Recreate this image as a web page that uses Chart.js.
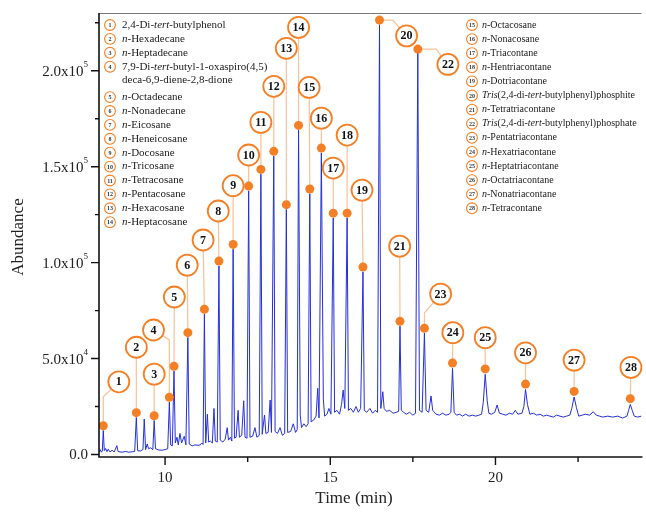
<!DOCTYPE html>
<html>
<head>
<meta charset="utf-8">
<script src="https://cdn.jsdelivr.net/npm/chart.js@4.4.1/dist/chart.umd.min.js"></script>
<style>
  html, body { margin: 0; padding: 0; background: #fff; }
  #wrap { width: 646px; height: 513px; }
</style>
</head>
<body>
<div id="wrap"><canvas id="chrom" width="646" height="513"></canvas></div>
<script>
// --- DATA ---
const traceTime = [
  8.00, 8.04, 8.07, 8.10, 8.13, 8.16, 8.20, 8.24, 8.28, 8.33, 8.40, 8.46, 8.54, 8.58, 8.70, 8.80, 8.90, 9.00, 9.08,
  9.13, 9.17, 9.25, 9.33, 9.37, 9.41, 9.46, 9.50, 9.56, 9.63, 9.67, 9.71, 9.80, 9.90, 10.00, 10.08,
  10.13, 10.17, 10.22, 10.27, 10.31, 10.36, 10.40, 10.45, 10.50, 10.58, 10.63, 10.69, 10.73, 10.82, 10.90,
  11.00, 11.06, 11.11, 11.15, 11.19, 11.23, 11.28, 11.32, 11.37, 11.43, 11.48, 11.52, 11.58, 11.63, 11.67,
  11.75, 11.82, 11.88, 11.92, 11.98, 12.02, 12.06, 12.10, 12.15, 12.21, 12.25, 12.32, 12.38, 12.42, 12.48,
  12.53, 12.57, 12.65, 12.72, 12.78, 12.85, 12.90, 12.94, 13.01, 13.05, 13.12, 13.18, 13.22, 13.29, 13.33,
  13.40, 13.48, 13.55, 13.62, 13.67, 13.71, 13.80, 13.88, 13.95, 14.00, 14.04, 14.09, 14.13, 14.20, 14.27,
  14.33, 14.38, 14.42, 14.50, 14.57, 14.62, 14.66, 14.73, 14.79, 14.83, 14.90, 14.96, 15.02, 15.09, 15.13,
  15.20, 15.28, 15.34, 15.39, 15.44, 15.51, 15.55, 15.62, 15.70, 15.78, 15.85, 15.92, 15.99, 16.03, 16.10,
  16.20, 16.28, 16.36, 16.43, 16.49, 16.53, 16.59, 16.63, 16.70, 16.80, 16.90, 17.00, 17.07, 17.11, 17.15,
  17.22, 17.30, 17.40, 17.50, 17.58, 17.65, 17.70, 17.78, 17.85, 17.90, 17.98, 18.05, 18.10, 18.20, 18.30,
  18.40, 18.50, 18.60, 18.65, 18.70, 18.75, 18.82, 18.92, 19.00, 19.10, 19.20, 19.30, 19.40, 19.50, 19.58,
  19.63, 19.69, 19.75, 19.80, 19.88, 19.98, 20.05, 20.12, 20.22, 20.32, 20.42, 20.52, 20.60, 20.68, 20.80,
  20.86, 20.91, 20.97, 21.04, 21.15, 21.25, 21.35, 21.45, 21.55, 21.65, 21.75, 21.85, 21.95, 22.05, 22.15,
  22.25, 22.31, 22.38, 22.45, 22.52, 22.62, 22.72, 22.85, 22.96, 23.05, 23.15, 23.25, 23.40, 23.55, 23.70,
  23.85, 23.98, 24.03, 24.08, 24.14, 24.20, 24.30, 24.42
];
const traceAbund = [
  1300, 2500, 1200, 1800, 12500, 2000, 3200, 1500, 2800, 1400, 2200, 1300, 4600, 1500, 1200, 1600, 1200, 1400, 1600,
  19300, 2000, 1800, 2600, 18500, 2500, 5500, 3000, 3500, 2500, 17700, 3000, 2400, 2200, 2600, 3000,
  27300, 5000, 4500, 43500, 6000, 9000, 5000, 11000, 6000, 9500, 5000, 61000, 5500, 4500, 5000,
  4800, 5000, 6000, 5200, 73200, 6000, 21000, 6500, 7000, 6000, 24000, 7000, 6500, 98300, 7500,
  6500, 8000, 14000, 7500, 9000, 7000, 107000, 8500, 9000, 23000, 9000, 10000, 28000, 9000, 8500,
  137400, 9000, 9500, 14000, 9000, 10000, 146100, 10500, 20600, 11000, 11500, 28400, 11500, 155500, 12000,
  11000, 14000, 10000, 11000, 127700, 11500, 12000, 16000, 11500, 13000, 169000, 20600, 14000, 16000, 14500,
  16000, 135900, 17000, 18000, 20000, 34500, 19000, 157200, 29000, 20000, 21000, 24000, 21000, 123300, 22000,
  23000, 21000, 26000, 33600, 24000, 123300, 23000, 24000, 22000, 25000, 22000, 24000, 95200, 23000, 22000,
  24000, 21500, 23000, 22000, 224000, 24000, 32700, 24000, 22500, 23000, 21500, 22000, 22500, 66900, 23000,
  22000, 21000, 22000, 20500, 21500, 209300, 23000, 22000, 63300, 23000, 22000, 30500, 23000, 21000, 20500,
  21500, 20500, 21000, 22000, 44900, 22000, 20500, 21000, 20000, 21000, 20000, 20500, 20000, 20500, 21000,
  27000, 41800, 28000, 21500, 21000, 22000, 25800, 21500, 21000, 20500, 21500, 21000, 23000, 21000, 21500,
  25000, 33900, 26000, 21000, 21500, 20500, 21000, 20000, 20500, 20000, 19500, 20500, 20000, 19500, 20000,
  20500, 24000, 30000, 24500, 20000, 20500, 21000, 20500, 22300, 20500, 20000, 19500, 20000, 19500, 20000,
  19000, 20000, 23000, 26100, 23000, 20000, 19500, 20000
];

// numbered peaks: marker dot, label circle, optional elbow of the leader line
const peakTime  = [8.13, 9.13, 9.67, 10.13, 10.27, 10.69, 11.19, 11.63, 12.06, 12.53, 12.90, 13.29, 13.67, 14.04,
                   14.38, 14.73, 15.09, 15.51, 15.99, 16.49, 17.11, 17.65, 17.85, 18.70, 19.69, 20.91, 22.38, 24.08];
const peakAbund = [15000, 21800, 20200, 29800, 46000, 63500, 75700, 100800, 109500, 139900, 148600, 158000, 130200, 171500,
                   138400, 159700, 125800, 125800, 97700, 226400, 69400, 211300, 65800, 47700, 44600, 36700, 32900, 29100];
const labelTime  = [8.60, 9.13, 9.67, 9.65, 10.28, 10.67, 11.15, 11.61, 12.06, 12.53, 12.90, 13.29, 13.67, 14.04,
                    14.36, 14.73, 15.09, 15.51, 15.96, 17.31, 17.10, 18.56, 18.34, 18.71, 19.69, 20.91, 22.38, 24.10];
const labelAbund = [37900, 55900, 41900, 64900, 82100, 98700, 111800, 126900, 140100, 156100, 173100, 191900, 211700, 222600,
                    191300, 175300, 149300, 166500, 137800, 218200, 108600, 203300, 83600, 63500, 60900, 53000, 49200, 45400];
const elbowTime  = [8.13, null, null, 10.13, null, null, null, null, null, null, null, null, null, null,
                    null, null, null, null, null, 16.89, null, 18.20, 17.85, null, null, null, null, null];
const elbowAbund = [30100, null, null, 59700, null, null, null, null, null, null, null, null, null, null,
                    null, null, null, null, null, 226400, null, 211300, 73700, null, null, null, null, null];

const compoundsLeft = [
  ['2,4-Di-*tert*-butylphenol'], ['*n*-Hexadecane'], ['*n*-Heptadecane'],
  ['7,9-Di-*tert*-butyl-1-oxaspiro(4,5)', 'deca-6,9-diene-2,8-dione'],
  ['*n*-Octadecane'], ['*n*-Nonadecane'], ['*n*-Eicosane'], ['*n*-Heneicosane'], ['*n*-Docosane'],
  ['*n*-Tricosane'], ['*n*-Tetracosane'], ['*n*-Pentacosane'], ['*n*-Hexacosane'], ['*n*-Heptacosane']
];
const compoundsRight = [
  '*n*-Octacosane', '*n*-Nonacosane', '*n*-Triacontane', '*n*-Hentriacontane', '*n*-Dotriacontane',
  '*Tris*(2,4-di-*tert*-butylphenyl)phosphite', '*n*-Tetratriacontane',
  '*Tris*(2,4-di-*tert*-butylphenyl)phosphate', '*n*-Pentatriacontane', '*n*-Hexatriacontane',
  '*n*-Heptatriacontane', '*n*-Octatriacontane', '*n*-Nonatriacontane', '*n*-Tetracontane'
];

const xMajorTicks = [10, 15, 20];
const xMinorTicks = [12.5, 17.5, 22.5];
const yMajorTicks = [0, 50000, 100000, 150000, 200000];
const yMinorTicks = [25000, 75000, 125000, 175000, 225000];
const yTickLabels = [['0.0', ''], ['5.0x10', '4'], ['1.0x10', '5'], ['1.5x10', '5'], ['2.0x10', '5']];

// --- STYLE ---
const SERIF = '"Liberation Serif", "Times New Roman", serif';
const ORANGE = '#f47f24';
const LEADER = '#f8c197';
const TRACE = '#2430d8';

// draws a string where *...* parts are italic
function drawRich(ctx, text, x, y, size) {
  let italic = false;
  text.split('*').forEach(part => {
    ctx.font = (italic ? 'italic ' : '') + size + 'px ' + SERIF;
    ctx.fillText(part, x, y);
    x += ctx.measureText(part).width;
    italic = !italic;
  });
}

function smallBadge(ctx, x, y, n) {
  ctx.beginPath();
  ctx.arc(x, y, 5.4, 0, Math.PI * 2);
  ctx.fillStyle = '#fff';
  ctx.fill();
  ctx.lineWidth = 1.1;
  ctx.strokeStyle = ORANGE;
  ctx.stroke();
  ctx.fillStyle = '#333';
  ctx.font = 'bold 6px ' + SERIF;
  ctx.textAlign = 'center';
  ctx.fillText(String(n), x, y + 0.5);
  ctx.textAlign = 'left';
}

const leaderPlugin = {
  id: 'leaders',
  beforeDatasetsDraw(chart) {
    const { ctx, scales: { x, y } } = chart;
    ctx.save();
    ctx.strokeStyle = LEADER;
    ctx.lineWidth = 1.2;
    peakTime.forEach((t, i) => {
      ctx.beginPath();
      ctx.moveTo(x.getPixelForValue(t), y.getPixelForValue(peakAbund[i]));
      if (elbowTime[i] !== null) ctx.lineTo(x.getPixelForValue(elbowTime[i]), y.getPixelForValue(elbowAbund[i]));
      ctx.lineTo(x.getPixelForValue(labelTime[i]), y.getPixelForValue(labelAbund[i]));
      ctx.stroke();
    });
    ctx.restore();
  },
  afterDatasetsDraw(chart) {
    const { ctx, scales: { x, y } } = chart;
    ctx.save();
    ctx.textAlign = 'center';
    ctx.textBaseline = 'middle';
    labelTime.forEach((t, i) => {
      const px = x.getPixelForValue(t), py = y.getPixelForValue(labelAbund[i]);
      ctx.beginPath();
      ctx.arc(px, py, 10.5, 0, Math.PI * 2);
      ctx.fillStyle = '#fff';
      ctx.fill();
      ctx.lineWidth = 1.8;
      ctx.strokeStyle = ORANGE;
      ctx.stroke();
      ctx.fillStyle = '#111';
      ctx.font = 'bold 12px ' + SERIF;
      ctx.fillText(String(i + 1), px, py + 0.5);
    });
    ctx.restore();
  }
};

const framePlugin = {
  id: 'frame',
  afterDraw(chart) {
    const { ctx, chartArea: a, scales: { x, y } } = chart;
    ctx.save();
    // box
    ctx.strokeStyle = '#777';
    ctx.lineWidth = 1;
    ctx.beginPath();
    ctx.moveTo(a.left, a.top + 0.5);
    ctx.lineTo(a.right, a.top + 0.5);
    ctx.stroke();
    ctx.strokeStyle = '#111';
    ctx.lineWidth = 1.6;
    ctx.beginPath();
    ctx.moveTo(a.left, a.top);
    ctx.lineTo(a.left, a.bottom);
    ctx.lineTo(a.right + 1, a.bottom);
    ctx.stroke();

    // ticks
    ctx.lineWidth = 1.4;
    ctx.beginPath();
    yMajorTicks.forEach(v => { const p = y.getPixelForValue(v); ctx.moveTo(a.left - 8, p); ctx.lineTo(a.left, p); });
    yMinorTicks.forEach(v => { const p = y.getPixelForValue(v); ctx.moveTo(a.left - 4, p); ctx.lineTo(a.left, p); });
    xMajorTicks.forEach(v => { const p = x.getPixelForValue(v); ctx.moveTo(p, a.bottom); ctx.lineTo(p, a.bottom + 8); });
    xMinorTicks.forEach(v => { const p = x.getPixelForValue(v); ctx.moveTo(p, a.bottom); ctx.lineTo(p, a.bottom + 5); });
    ctx.stroke();

    // tick labels
    ctx.fillStyle = '#222';
    ctx.textBaseline = 'middle';
    yMajorTicks.forEach((v, i) => {
      const p = y.getPixelForValue(v);
      const [base, sup] = yTickLabels[i];
      ctx.font = '9px ' + SERIF;
      const sw = sup ? ctx.measureText(sup).width : 0;
      const right = a.left - 11;
      ctx.textAlign = 'right';
      if (sup) ctx.fillText(sup, right, p - 6);
      ctx.font = '15px ' + SERIF;
      ctx.fillText(base, right - sw, p + 1);
    });
    ctx.textAlign = 'center';
    ctx.font = '15px ' + SERIF;
    xMajorTicks.forEach(v => ctx.fillText(String(v), x.getPixelForValue(v), 478));

    // axis titles
    ctx.font = '17px ' + SERIF;
    ctx.fillText('Time (min)', 354, 499);
    ctx.save();
    ctx.translate(19, 237);
    ctx.rotate(-Math.PI / 2);
    ctx.fillText('Abundance', 0, 0);
    ctx.restore();

    // compound legend
    ctx.textAlign = 'left';
    ctx.fillStyle = '#1a1a1a';
    let ly = 25;
    compoundsLeft.forEach((lines, i) => {
      smallBadge(ctx, 110, ly, i + 1);
      ctx.fillStyle = '#1a1a1a';
      lines.forEach((ln, k) => drawRich(ctx, ln, 122, ly + k * 13.6, 11));
      ly += 13.9 + (lines.length - 1) * 16.5;
    });
    compoundsRight.forEach((txt, i) => {
      const ry = 25 + i * 14.1;
      smallBadge(ctx, 472, ry, i + 15);
      ctx.fillStyle = '#1a1a1a';
      drawRich(ctx, txt, 482, ry, 10);
    });
    ctx.restore();
  }
};

new Chart(document.getElementById('chrom'), {
  type: 'line',
  data: {
    datasets: [
      {
        label: 'Peaks',
        data: peakTime.map((t, i) => ({ x: t, y: peakAbund[i] })),
        showLine: false,
        pointRadius: 4.5,
        pointBackgroundColor: ORANGE,
        pointBorderWidth: 0,
        order: 0
      },
      {
        label: 'TIC',
        data: traceTime.map((t, i) => ({ x: t, y: traceAbund[i] })),
        borderColor: TRACE,
        borderWidth: 1,
        pointRadius: 0,
        tension: 0,
        order: 1
      }
    ]
  },
  options: {
    responsive: false,
    animation: false,
    devicePixelRatio: 1,
    layout: { padding: { left: 99, right: 1, top: 13, bottom: 56 } },
    scales: {
      x: { type: 'linear', min: 8, max: 24.42, display: false },
      y: { min: -1300, max: 230100, display: false }
    },
    plugins: { legend: { display: false }, tooltip: { enabled: false } }
  },
  plugins: [leaderPlugin, framePlugin]
});
</script>
</body>
</html>
